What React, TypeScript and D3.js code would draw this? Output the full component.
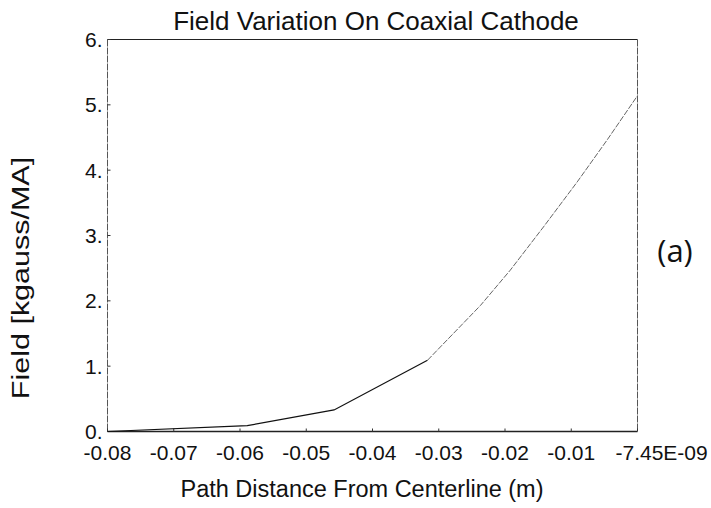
import React from "react";
import * as d3 from "d3";

const xValues = [-0.08, -0.0589, -0.0458, -0.0317, -0.0237, -0.0192, -0.0142, -0.0091, -0.0046, 0];
const fieldValues = [0, 0.09, 0.33, 1.09, 1.93, 2.47, 3.13, 3.82, 4.46, 5.14];
const xTicks = [-0.08, -0.07, -0.06, -0.05, -0.04, -0.03, -0.02, -0.01, 0];
const xTickLabels = ["-0.08", "-0.07", "-0.06", "-0.05", "-0.04", "-0.03", "-0.02", "-0.01", "-7.45E-09"];
const yTicks = [0, 1, 2, 3, 4, 5, 6];
const yTickLabels = ["0.", "1.", "2.", "3.", "4.", "5.", "6."];

const W = 711;
const H = 508;
const left = 107.5;
const right = 637.5;
const top = 39.5;
const bottom = 431.5;
const FONT = "'Liberation Sans', Arial, Helvetica, sans-serif";

export default function App() {
  const x = d3.scaleLinear().domain([-0.08, 0]).range([left, right]);
  const y = d3.scaleLinear().domain([0, 6]).range([bottom, top]);
  const pts = xValues.map((v, i) => [v, fieldValues[i]] as [number, number]);
  const line = d3
    .line<[number, number]>()
    .x((d) => x(d[0]))
    .y((d) => y(d[1]));
  const darkPart = pts.slice(0, 4);
  const lightPart = pts.slice(3);

  return (
    <div style={{ position: "absolute", left: 0, top: 0 }}>
      <svg width={W} height={H} style={{ display: "block", background: "#fff" }}>
        <rect x={0} y={0} width={W} height={H} fill="#fff" />
        {/* frame */}
        <line x1={left} x2={right} y1={top} y2={top} stroke="#222" strokeWidth={1.2} />
        <line x1={left} x2={right} y1={bottom} y2={bottom} stroke="#222" strokeWidth={1.4} />
        <line x1={left} x2={left} y1={top} y2={bottom} stroke="#555" strokeWidth={1} strokeDasharray="7 1" />
        <line x1={right} x2={right} y1={top} y2={bottom} stroke="#555" strokeWidth={1} strokeDasharray="7 1" />
        {/* y ticks */}
        {yTicks.map((t, i) => (
          <g key={"y" + i}>
            <line x1={left} x2={left + 3} y1={y(t)} y2={y(t)} stroke="#333" strokeWidth={1} />
            <text
              x={left - 5}
              y={y(t)}
              dy="0.36em"
              textAnchor="end"
              fontFamily={FONT}
              fontSize={21}
              fill="#111"
            >
              {yTickLabels[i]}
            </text>
          </g>
        ))}
        {/* x ticks */}
        {xTicks.map((t, i) => (
          <g key={"x" + i}>
            <line x1={x(t)} x2={x(t)} y1={bottom} y2={bottom - 3} stroke="#333" strokeWidth={1} />
            <text
              x={i === xTicks.length - 1 ? x(t) - 22 : x(t)}
              y={bottom + 28.5}
              textAnchor={i === xTicks.length - 1 ? "start" : "middle"}
              fontFamily={FONT}
              fontSize={21}
              fill="#111"
            >
              {xTickLabels[i]}
            </text>
          </g>
        ))}
        {/* data line */}
        <path d={line(darkPart) || ""} fill="none" stroke="#111" strokeWidth={1.2} />
        <path d={line(lightPart) || ""} fill="none" stroke="#666" strokeWidth={1} strokeDasharray="6 1.5" />
        {/* title */}
        <text x={376} y={30} textAnchor="middle" fontFamily={FONT} fontSize={26} fill="#111">
          Field Variation On Coaxial Cathode
        </text>
        {/* x label */}
        <text x={362} y={497} textAnchor="middle" fontFamily={FONT} fontSize={23.5} fill="#111">
          Path Distance From Centerline (m)
        </text>
        {/* y label */}
        <text
          transform={`translate(29, 278) rotate(-90) scale(1, 0.76)`}
          textAnchor="middle"
          fontFamily={FONT}
          fontSize={30.5}
          fill="#111"
        >
          Field [kgauss/MA]
        </text>
        {/* panel tag */}
        <text x={675} y={262} textAnchor="middle" fontFamily="'Open Sans', sans-serif" fontSize={31} fill="#111">
          (a)
        </text>
      </svg>
    </div>
  );
}
